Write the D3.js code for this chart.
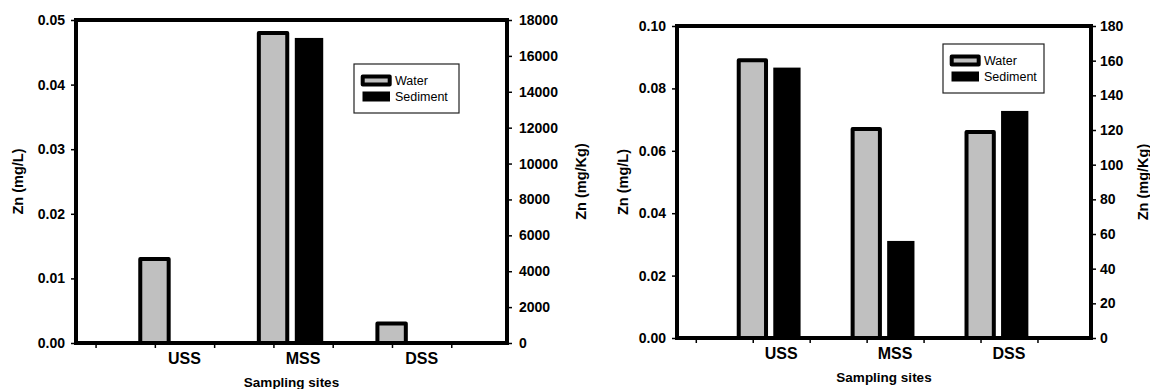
<!DOCTYPE html>
<html>
<head>
<meta charset="utf-8" />
<title>Zn in water and sediment</title>
<script src="https://cdnjs.cloudflare.com/ajax/libs/d3/7.8.5/d3.min.js"></script>
<style>
  body { margin: 0; background: #fff; }
  svg { display: block; font-family: "Liberation Sans", Arial, sans-serif; }
  .tick text { font-size: 14px; font-weight: bold; fill: #000; }
  .tick line { stroke: #000; stroke-width: 1.5; }
</style>
</head>
<body>
<svg width="1150" height="389"></svg>
<script>
const sites = ["USS", "MSS", "DSS"];
const series = ["Water", "Sediment"];

// left panel
const water1 = [0.013, 0.048, 0.003];
const sediment1 = [0, 17000, 0];
const waterTicks1 = [0, 0.01, 0.02, 0.03, 0.04, 0.05];
const sedimentTicks1 = [0, 2000, 4000, 6000, 8000, 10000, 12000, 14000, 16000, 18000];

// right panel
const water2 = [0.089, 0.067, 0.066];
const sediment2 = [156, 56, 131];
const waterTicks2 = [0, 0.02, 0.04, 0.06, 0.08, 0.10];
const sedimentTicks2 = [0, 20, 40, 60, 80, 100, 120, 140, 160, 180];

const svg = d3.select("svg");

function panel(cfg) {
  const g = svg.append("g");
  const { left, right, top, bottom } = cfg;

  // x in "tick units": minor ticks at 0..6, groups sit just right of odd ticks
  const x = d3.scaleLinear().domain([-0.33, 6.94]).range([left, right]);
  const site = d3.scalePoint().domain(sites).range([1.28, 5.28]);
  const inner = d3.scaleBand().domain(series).range([-0.526, 0.56]).paddingInner(0.21);

  const yL = d3.scaleLinear().domain([0, d3.max(cfg.waterTicks)]).range([bottom, top]);
  const yR = d3.scaleLinear().domain([0, d3.max(cfg.sedTicks)]).range([bottom, top]);

  const rows = sites.map((s, i) => ({ site: s, Water: cfg.water[i], Sediment: cfg.sediment[i] }));

  // sediment bars
  g.selectAll("rect.sed")
    .data(rows)
    .join("rect")
    .attr("class", "sed")
    .attr("x", (d) => x(site(d.site) + inner("Sediment")))
    .attr("width", (d) => x(inner.bandwidth()) - x(0))
    .attr("y", (d) => yR(d.Sediment))
    .attr("height", (d) => bottom - yR(d.Sediment))
    .style("fill", "#000");

  // water bars
  g.selectAll("rect.wat")
    .data(rows)
    .join("rect")
    .attr("class", "wat")
    .attr("x", (d) => x(site(d.site) + inner("Water")))
    .attr("width", (d) => x(inner.bandwidth()) - x(0))
    .attr("y", (d) => yL(d.Water))
    .attr("height", (d) => bottom - yL(d.Water))
    .style("fill", "#c0c0c0")
    .style("stroke", "#000")
    .style("stroke-width", 4)
    .style("stroke-linejoin", "round");

  // axes (ticks only, frame drawn below)
  const axL = g.append("g")
    .attr("transform", `translate(${left},0)`)
    .call(d3.axisLeft(yL).tickValues(cfg.waterTicks).tickFormat(d3.format(".2f")).tickSize(5).tickPadding(6));
  const axR = g.append("g")
    .attr("transform", `translate(${right},0)`)
    .call(d3.axisRight(yR).tickValues(cfg.sedTicks).tickFormat(d3.format("d")).tickSize(5).tickPadding(cfg.rPad));
  const axB = g.append("g")
    .attr("transform", `translate(0,${bottom})`)
    .call(d3.axisBottom(x).tickValues(d3.range(0, 7)).tickFormat("").tickSize(5));
  [axL, axR, axB].forEach((a) => a.select(".domain").remove());

  g.append("rect")
    .attr("x", left)
    .attr("y", top)
    .attr("width", right - left)
    .attr("height", bottom - top)
    .style("fill", "none")
    .style("stroke", "#000")
    .style("stroke-width", 4);

  // site labels
  g.selectAll("text.site")
    .data(sites)
    .join("text")
    .attr("class", "site")
    .attr("x", (d) => x(site(d) + 0.22))
    .attr("y", bottom + 21)
    .attr("text-anchor", "middle")
    .style("font-size", "16px")
    .style("font-weight", "bold")
    .text((d) => d);

  g.append("text")
    .attr("x", (left + right) / 2)
    .attr("y", bottom + 44)
    .attr("text-anchor", "middle")
    .style("font-size", "13.5px")
    .style("font-weight", "bold")
    .text("Sampling sites");

  const midY = (top + bottom) / 2;
  g.append("text")
    .attr("transform", `translate(${left - cfg.titleL},${midY}) rotate(-90)`)
    .attr("text-anchor", "middle")
    .attr("dominant-baseline", "central")
    .style("font-size", "14.5px")
    .style("font-weight", "bold")
    .text("Zn (mg/L)");
  g.append("text")
    .attr("transform", `translate(${right + cfg.titleR},${midY}) rotate(-90)`)
    .attr("text-anchor", "middle")
    .attr("dominant-baseline", "central")
    .style("font-size", "14.5px")
    .style("font-weight", "bold")
    .text("Zn (mg/Kg)");

  // legend
  const lg = g.append("g").attr("transform", `translate(${cfg.legX},${cfg.legY})`);
  lg.append("rect")
    .attr("width", cfg.legW)
    .attr("height", 49)
    .style("fill", "#fff")
    .style("stroke", "#222")
    .style("stroke-width", 1.2);
  const item = lg.selectAll("g.item")
    .data(series)
    .join("g")
    .attr("class", "item")
    .attr("transform", (d, i) => `translate(0,${16.5 + i * 16})`);
  item.append("rect")
    .attr("x", (d) => (d === "Water" ? 8.7 : 8.5))
    .attr("y", (d) => (d === "Water" ? -4 : -5))
    .attr("width", (d) => (d === "Water" ? 27 : 27.5))
    .attr("height", (d) => (d === "Water" ? 8 : 10))
    .style("fill", (d) => (d === "Water" ? "#c0c0c0" : "#000"))
    .style("stroke", (d) => (d === "Water" ? "#000" : "none"))
    .style("stroke-width", 4)
    .style("stroke-linejoin", "round");
  item.append("text")
    .attr("x", 41)
    .attr("dy", "0.35em")
    .style("font-size", "12.5px")
    .text((d) => d);
}

panel({
  left: 76, right: 507, top: 20, bottom: 343,
  water: water1, sediment: sediment1,
  waterTicks: waterTicks1, sedTicks: sedimentTicks1,
  rPad: 7, titleL: 58, titleR: 74,
  legX: 354, legY: 64, legW: 105
});

panel({
  left: 677, right: 1091, top: 26, bottom: 338,
  water: water2, sediment: sediment2,
  waterTicks: waterTicks2, sedTicks: sedimentTicks2,
  rPad: 4, titleL: 54, titleR: 52,
  legX: 943, legY: 44, legW: 101
});
</script>
</body>
</html>
